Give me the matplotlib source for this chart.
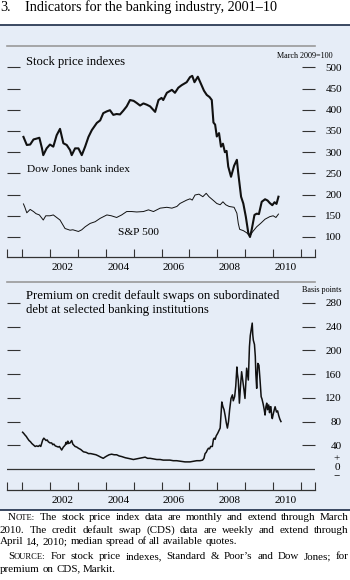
import matplotlib
matplotlib.use('Agg')
import matplotlib.pyplot as plt
from matplotlib.patches import Rectangle
from matplotlib.lines import Line2D

# Dow Jones bank index, monthly (March 2009 = 100)
dj_t = [2001.05, 2001.17, 2001.29, 2001.41, 2001.52, 2001.62, 2001.71, 2001.76, 2001.88,
        2002.0, 2002.12, 2002.24, 2002.36, 2002.48, 2002.6, 2002.72, 2002.78, 2002.9,
        2003.02, 2003.14, 2003.26, 2003.38, 2003.5, 2003.68, 2003.8, 2003.91,
        2004.03, 2004.15, 2004.27, 2004.39, 2004.51, 2004.63, 2004.75, 2004.87,
        2005.0, 2005.11, 2005.23, 2005.35, 2005.47, 2005.59, 2005.77, 2005.89,
        2006.0, 2006.06, 2006.19, 2006.37, 2006.48, 2006.6, 2006.72, 2006.9,
        2007.02, 2007.1, 2007.18, 2007.3, 2007.42, 2007.52, 2007.62, 2007.72, 2007.8,
        2007.86, 2007.92, 2007.98, 2008.06, 2008.13, 2008.2, 2008.27, 2008.33, 2008.39,
        2008.49, 2008.6, 2008.7, 2008.75, 2008.85, 2008.93, 2009.02, 2009.11, 2009.17,
        2009.23, 2009.33, 2009.41, 2009.49, 2009.59, 2009.71, 2009.8, 2009.88, 2009.97,
        2010.05, 2010.12, 2010.19]
dj_v = [336, 317, 318, 330, 332, 334, 310, 293, 309,
        318, 313, 340, 355, 321, 317, 305, 293, 309,
        309, 293, 313, 336, 352, 369, 375, 392,
        396, 399, 388, 390, 389, 398, 408, 423,
        421, 416, 410, 415, 412, 408, 395, 423,
        428, 423, 440, 447, 440, 452, 458, 465,
        477, 480, 465, 478, 460, 445, 435, 430, 423,
        370, 365, 337, 345, 313, 320, 300, 303, 266,
        242, 268, 282, 250, 195, 179, 148, 109, 100,
        117, 152, 155, 154, 183, 189, 186, 180, 175,
        182, 178, 195]

# S&P 500, monthly (March 2009 = 100)
sp_t = [2001.05, 2001.1, 2001.17, 2001.29, 2001.41, 2001.5, 2001.62, 2001.76, 2001.85,
        2002.0, 2002.12, 2002.24, 2002.36, 2002.54, 2002.72, 2002.82, 2003.02, 2003.14,
        2003.26, 2003.44, 2003.62, 2003.8, 2004.04, 2004.2, 2004.39, 2004.57, 2004.75,
        2004.93, 2005.11, 2005.35, 2005.53, 2005.71, 2005.95, 2006.19, 2006.37, 2006.55,
        2006.66, 2006.9, 2007.02, 2007.1, 2007.2, 2007.34, 2007.48, 2007.6, 2007.7,
        2007.86, 2007.98, 2008.1, 2008.2, 2008.3, 2008.42, 2008.6, 2008.7, 2008.75,
        2008.8, 2008.93, 2009.05, 2009.17, 2009.26, 2009.41, 2009.55, 2009.71, 2009.88,
        2010.0, 2010.1, 2010.19]
sp_v = [178, 170, 157, 165, 160, 155, 152, 140, 150,
        150, 152, 146, 140, 120, 116, 117, 113, 117,
        124, 132, 136, 144, 152, 150, 146, 152, 160,
        160, 159, 160, 164, 160, 168, 170, 168, 172,
        179, 187, 190, 187, 199, 201, 195, 203, 195,
        186, 179, 176, 183, 176, 172, 170, 156, 132,
        118, 115, 110, 102, 112, 124, 132, 142, 148,
        150, 146, 154]

# CDS premium, weekly, basis points
cds_t = [2001.02, 2001.06, 2001.11, 2001.15, 2001.19, 2001.25, 2001.3, 2001.35, 2001.42,
         2001.47, 2001.52, 2001.58, 2001.63, 2001.67, 2001.71, 2001.74, 2001.78, 2001.82,
         2001.86, 2001.9, 2001.94, 2002.0, 2002.06, 2002.1, 2002.14, 2002.19, 2002.24,
         2002.3, 2002.34, 2002.38, 2002.42, 2002.48, 2002.54, 2002.58, 2002.6, 2002.64,
         2002.66, 2002.72, 2002.78, 2002.82, 2002.86, 2002.9, 2002.96, 2003.02, 2003.1,
         2003.2, 2003.3, 2003.38, 2003.46, 2003.56, 2003.65, 2003.74, 2003.82, 2003.91,
         2003.97, 2004.04, 2004.12, 2004.21, 2004.3, 2004.39, 2004.48, 2004.57, 2004.7,
         2004.81, 2004.9, 2004.99, 2005.1, 2005.23, 2005.32, 2005.41, 2005.5, 2005.59,
         2005.7, 2005.83, 2005.95, 2006.06, 2006.2, 2006.3, 2006.42, 2006.54, 2006.7,
         2006.84, 2006.95, 2007.02, 2007.15, 2007.26, 2007.38, 2007.47, 2007.52, 2007.56,
         2007.6, 2007.64, 2007.68, 2007.72, 2007.76, 2007.82, 2007.86, 2007.89, 2007.92,
         2007.96, 2008.01, 2008.06, 2008.1, 2008.13, 2008.16, 2008.2, 2008.24, 2008.28,
         2008.32, 2008.36, 2008.4, 2008.44, 2008.49, 2008.54, 2008.57, 2008.62, 2008.66,
         2008.7, 2008.72, 2008.75, 2008.77, 2008.79, 2008.83, 2008.87, 2008.91, 2008.95,
         2008.99, 2009.02, 2009.05, 2009.08, 2009.11, 2009.13, 2009.15, 2009.18, 2009.21,
         2009.23, 2009.25, 2009.27, 2009.29, 2009.33, 2009.36, 2009.38, 2009.41, 2009.43,
         2009.45, 2009.49, 2009.53, 2009.57, 2009.6, 2009.64, 2009.68, 2009.71, 2009.74,
         2009.77, 2009.8, 2009.84, 2009.87, 2009.9, 2009.92, 2009.95, 2009.97, 2010.0,
         2010.04, 2010.07, 2010.12, 2010.16, 2010.2, 2010.24, 2010.28]
cds_v = [62, 60, 57, 55, 52, 48, 46, 43, 40,
         38, 39, 38, 40, 38, 44, 49, 52, 50,
         48, 49, 46, 44, 44, 41, 42, 39, 38,
         37, 38, 35, 32, 37, 40, 45, 42, 47,
         43, 44, 48, 42, 40, 38, 37, 35, 33,
         29, 28, 26, 26, 25, 24, 22, 20, 18,
         20, 22, 24, 25, 24, 24, 22, 21, 19,
         18, 17, 16, 17, 18, 19, 20, 18, 18,
         17, 16, 16, 15, 15, 15, 14, 14, 13,
         12, 12, 12, 13, 14, 14, 15, 18, 26,
         28, 32, 35, 34, 38, 38, 50, 52, 50,
         56, 60, 65, 69, 90, 113, 105, 100, 90,
         78, 69, 80, 100, 119, 125, 115, 122, 140,
         172, 160, 150, 130, 111, 140, 164, 150, 135,
         119, 145, 170, 160, 150, 180, 206, 225, 234,
         240, 246, 226, 217, 210, 190, 160, 136, 160,
         178, 175, 150, 122, 118, 110, 100, 91, 105,
         111, 100, 108, 95, 105, 105, 88, 85, 92,
         100, 105, 96, 98, 90, 84, 80]

year_labels = ['2002', '2004', '2006', '2008', '2010']
stock_ticks = [100, 150, 200, 250, 300, 350, 400, 450, 500]
cds_ticks = [40, 80, 120, 160, 200, 240, 280]

W, H = 350, 580
def fx(x):
    return x / W
def fy(y):
    return 1 - y / H

plt.rcParams['font.family'] = ['Liberation Serif', 'DejaVu Serif']

fig = plt.figure(figsize=(3.5, 5.8), dpi=100)
fig.patch.set_facecolor('white')

# fond bleu du panneau + filets
fig.add_artist(Rectangle((0, fy(510)), 1, fy(25) - fy(510), transform=fig.transFigure,
                         facecolor='#e6edf7', edgecolor='none', zorder=0))
for yy in (24.5, 510):
    fig.add_artist(Line2D([0, 1], [fy(yy)] * 2, transform=fig.transFigure,
                          color='#2b3a55', lw=1.3))

XLIM = (2000.46, 2011.5)

def style(ax, yticks):
    ax.set_facecolor('none')
    ax.spines['left'].set_visible(False)
    ax.spines['right'].set_visible(False)
    ax.spines['top'].set_color('#9a9a9a')
    ax.spines['top'].set_linewidth(1.2)
    ax.spines['bottom'].set_color('#333333')
    ax.spines['bottom'].set_linewidth(0.9)
    ax.set_xlim(*XLIM)
    ax.set_yticks(yticks)
    ax.tick_params(axis='y', direction='in', length=9.4, width=0.8, color='#333333',
                   left=True, right=True, labelleft=False, labelright=True,
                   labelsize=8, pad=19.5)
    for lbl in ax.get_yticklabels():
        lbl.set_ha('right')
    ax.set_xticks([XLIM[0]] + list(range(2001, 2012)) + [XLIM[1]])
    ax.set_xticks([int(y) + 0.45 for y in year_labels], labels=year_labels, minor=True)
    ax.tick_params(axis='x', which='major', direction='in', length=6, width=0.8,
                   color='#333333', labelbottom=False)
    ax.tick_params(axis='x', which='minor', length=0, labelsize=8, pad=4)

# graphique du haut : indices boursiers
ax1 = fig.add_axes([fx(7), fy(257), fx(315) - fx(7), fy(46) - fy(257)])
ax1.plot(dj_t, dj_v, color='#111111', lw=1.5)
ax1.plot(sp_t, sp_v, color='#111111', lw=0.7)
ax1.set_ylim(52.8, 550.4)
style(ax1, stock_ticks)

# graphique du bas : CDS
ax2 = fig.add_axes([fx(7), fy(490), fx(315) - fx(7), fy(282) - fy(490)])
ax2.plot(cds_t, cds_v, color='#111111', lw=1.1)
ax2.axhline(0, color='#333333', lw=0.9)
ax2.set_ylim(-35.4, 315.3)
style(ax2, cds_ticks)

# textes
fig.text(0, fy(11), '3.', fontsize=10.2, va='baseline')
fig.text(fx(25), fy(11), 'Indicators for the banking industry, 2001–10', fontsize=10.2, va='baseline')
fig.text(fx(26), fy(65), 'Stock price indexes', fontsize=9.1, va='baseline')
fig.text(fx(333), fy(58.5), 'March 2009=100', fontsize=5.9, va='baseline', ha='right')
fig.text(fx(27), fy(172.5), 'Dow Jones bank index', fontsize=8.2, va='baseline')
fig.text(fx(118), fy(235), 'S&P 500', fontsize=8.2, va='baseline')
fig.text(fx(26), fy(299.5), 'Premium on credit default swaps on subordinated', fontsize=9.2, va='baseline')
fig.text(fx(26), fy(312.5), 'debt at selected banking institutions', fontsize=9.2, va='baseline')
fig.text(fx(342), fy(292), 'Basis points', fontsize=5.9, va='baseline', ha='right')
for s, yy in (('+', 459), ('0', 468), ('−', 477)):
    fig.text(fx(337), fy(yy), s, fontsize=8, va='center', ha='center')

# notes, justifiées
NFS = 7.9
renderer = fig.canvas.get_renderer()

def note_line(y_base, x0, x1, words, justify=True):
    items = []
    total = 0
    for word in words:
        parts = []
        for s, fs in word:
            t = fig.text(0, fy(y_base), s, fontsize=fs, va='baseline', ha='left')
            w = t.get_window_extent(renderer).width
            parts.append((t, w))
            total += w
        items.append(parts)
    if justify and len(items) > 1:
        gap = max((x1 - x0 - total) / (len(items) - 1), 1.0)
    else:
        gap = NFS * 0.25 * 100 / 72
    x = x0
    for parts in items:
        for t, w in parts:
            t.set_x(fx(x))
            x += w
        x += gap

def w(s):
    return [[(p, NFS)] for p in s.split()]

note_line(520.5, 8, 349, [[('N', NFS), ('OTE:', NFS * 0.78)]] +
          w('The stock price index data are monthly and extend through March'))
note_line(532.8, 0, 349, w('2010. The credit default swap (CDS) data are weekly and extend through'))
note_line(544.5, 0, 349, w('April 14, 2010; median spread of all available quotes.'), justify=False)
note_line(559.3, 8, 349, [[('S', NFS), ('OURCE:', NFS * 0.78)]] +
          w('For stock price indexes, Standard & Poor’s and Dow Jones; for'))
note_line(571.7, 0, 349, w('premium on CDS, Markit.'), justify=False)

fig.savefig('out.png', dpi=100, facecolor='white')
